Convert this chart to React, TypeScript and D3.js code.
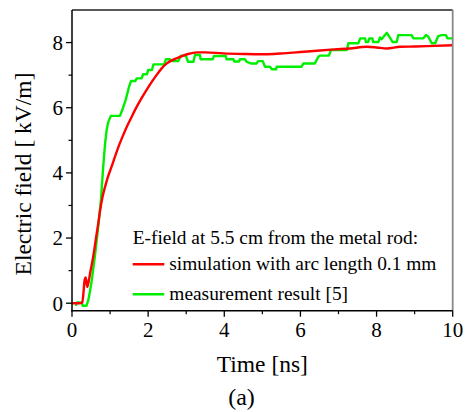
import React from "react";
import * as d3 from "d3";

const W = 469;
const H = 412;

const xTicks = [0, 2, 4, 6, 8, 10];
const xMinor = [1, 3, 5, 7, 9];
const yTicks = [0, 2, 4, 6, 8];
const yMinor = [1, 3, 5, 7];

const legendTitle = "E-field at 5.5 cm from the metal rod:";
const seriesNames = ["simulation with arc length 0.1 mm", "measurement result [5]"];
const seriesColors = ["#ff0000", "#00ee00"];

// simulation (red)
const simT = [0, 0.1, 0.2, 0.27, 0.3, 0.33, 0.36, 0.4, 0.43, 0.48, 0.53, 0.58, 0.65, 0.69, 0.74, 0.8, 0.87, 0.95, 1.04, 1.13, 1.22, 1.33, 1.44, 1.55, 1.65, 1.79, 1.96, 2.1, 2.22, 2.35, 2.49, 2.65, 2.84, 3.05, 3.28, 3.5, 3.97, 4.5, 4.94, 5.3, 5.55, 6.0, 6.43, 6.9, 7.3, 7.74, 8.0, 8.27, 8.62, 9.0, 9.32, 10];
const simV = [0, 0, 0, 0.02, 0.3, 0.7, 0.79, 0.5, 0.62, 0.95, 1.25, 1.6, 2.15, 2.45, 2.86, 3.25, 3.58, 3.9, 4.19, 4.5, 4.8, 5.12, 5.42, 5.68, 5.92, 6.22, 6.55, 6.8, 7.0, 7.2, 7.36, 7.47, 7.56, 7.65, 7.7, 7.7, 7.67, 7.65, 7.64, 7.65, 7.67, 7.71, 7.75, 7.79, 7.82, 7.87, 7.85, 7.82, 7.87, 7.88, 7.89, 7.92];

// measurement (green)
const measT = [0.1, 0.13, 0.26, 0.28, 0.38, 0.43, 0.47, 0.52, 0.6, 0.69, 0.76, 0.82, 0.87, 0.91, 0.95, 1.02, 1.26, 1.32, 1.41, 1.5, 1.55, 1.66, 1.7, 1.83, 1.87, 1.97, 2.0, 2.1, 2.14, 2.42, 2.47, 2.57, 2.65, 2.79, 2.86, 2.99, 3.05, 3.19, 3.23, 3.36, 3.38, 3.7, 3.73, 4.04, 4.06, 4.24, 4.26, 4.39, 4.41, 4.54, 4.59, 4.7, 4.85, 4.89, 5.01, 5.07, 5.2, 5.25, 5.36, 5.38, 6.03, 6.08, 6.38, 6.47, 6.51, 6.75, 6.8, 7.22, 7.26, 7.52, 7.57, 7.7, 7.72, 7.78, 7.81, 7.89, 7.91, 8.05, 8.09, 8.13, 8.27, 8.35, 8.42, 8.53, 8.57, 8.92, 8.97, 9.23, 9.3, 9.36, 9.45, 9.54, 9.62, 9.71, 9.82, 9.86, 10];
const measV = [-0.08, 0.02, 0.02, -0.08, -0.08, 0.1, 0.35, 0.71, 1.43, 2.35, 3.17, 4.19, 4.91, 5.32, 5.55, 5.75, 5.75, 5.93, 6.24, 6.65, 6.82, 6.82, 6.9, 6.9, 7.03, 7.03, 7.16, 7.16, 7.33, 7.33, 7.49, 7.49, 7.43, 7.43, 7.6, 7.6, 7.41, 7.41, 7.62, 7.62, 7.49, 7.49, 7.59, 7.59, 7.49, 7.49, 7.42, 7.42, 7.49, 7.49, 7.41, 7.36, 7.36, 7.43, 7.43, 7.26, 7.26, 7.18, 7.18, 7.26, 7.26, 7.36, 7.36, 7.56, 7.6, 7.6, 7.77, 7.77, 7.98, 7.98, 8.13, 8.13, 8.02, 8.02, 8.13, 8.13, 8.02, 8.02, 8.16, 8.1, 8.3, 8.15, 8.02, 8.02, 8.23, 8.23, 8.13, 8.13, 8.23, 8.18, 7.98, 7.98, 8.2, 8.23, 8.23, 8.13, 8.13];

const FONT = "Liberation Serif, DejaVu Serif, serif";
const txt = { fontFamily: FONT };

export default function App() {
  const left = 72;
  const right = 452.7;
  const top = 10;
  const bottom = 310.7;
  const x = d3.scaleLinear().domain([0, 10]).range([left, right]);
  const y = d3.scaleLinear().domain([-0.23, 9]).range([bottom, top]);

  const line = d3
    .line<[number, number]>()
    .x((d) => x(d[0]))
    .y((d) => y(d[1]));
  const smooth = d3
    .line<[number, number]>()
    .x((d) => x(d[0]))
    .y((d) => y(d[1]))
    .curve(d3.curveMonotoneX);

  const simData: [number, number][] = simT.map((t, i) => [t, simV[i]]);
  const measData: [number, number][] = measT.map((t, i) => [t, measV[i]]);

  const legX = 132.7;
  const legY = 244.3;
  const legFont = 19.4;

  return (
    <svg
      width={W}
      height={H}
      style={{ position: "absolute", left: 0, top: 0, background: "#fff", fontFamily: FONT }}
    >
      <rect x={0} y={0} width={W} height={H} fill="#fff" />
      <defs>
        <clipPath id="plotclip">
          <rect x={left} y={top} width={right - left} height={bottom - top} />
        </clipPath>
      </defs>
      <g clipPath="url(#plotclip)">
        <path d={line(measData) || ""} fill="none" stroke={seriesColors[1]} strokeWidth={2.4} strokeLinejoin="round" />
        <path d={smooth(simData) || ""} fill="none" stroke={seriesColors[0]} strokeWidth={2.4} strokeLinejoin="round" />
      </g>
      {/* frame */}
      <line x1={left} x2={right} y1={top} y2={top} stroke="#222" strokeWidth={1.5} />
      <line x1={right} x2={right} y1={top} y2={bottom} stroke="#888" strokeWidth={1.8} />
      <line x1={left} x2={left} y1={top} y2={bottom + 0.75} stroke="#000" strokeWidth={1.5} />
      <line x1={left - 0.75} x2={right} y1={bottom} y2={bottom} stroke="#000" strokeWidth={1.5} />
      {/* x ticks */}
      {xTicks.map((t) => (
        <g key={"xt" + t}>
          <line x1={x(t)} x2={x(t)} y1={bottom} y2={bottom + 6} stroke="#000" strokeWidth={1.3} />
          <text x={x(t)} y={336.7} fontSize={21} textAnchor="middle" fill="#000" style={txt}>
            {t}
          </text>
        </g>
      ))}
      {xMinor.map((t) => (
        <line key={"xm" + t} x1={x(t)} x2={x(t)} y1={bottom} y2={bottom + 3.5} stroke="#000" strokeWidth={1.2} />
      ))}
      {/* y ticks */}
      {yTicks.map((t) => (
        <g key={"yt" + t}>
          <line x1={left - 6} x2={left} y1={y(t)} y2={y(t)} stroke="#000" strokeWidth={1.3} />
          <text x={63} y={y(t) + 7.3} fontSize={21} textAnchor="end" fill="#000" style={txt}>
            {t}
          </text>
        </g>
      ))}
      {yMinor.map((t) => (
        <line key={"ym" + t} x1={left - 3.5} x2={left} y1={y(t)} y2={y(t)} stroke="#000" strokeWidth={1.2} />
      ))}
      {/* axis titles */}
      <text x={(left + right) / 2} y={372} fontSize={23.5} textAnchor="middle" fill="#000" style={txt}>
        Time [ns]
      </text>
      <text x={241.5} y={404.5} fontSize={24} textAnchor="middle" fill="#000" style={txt}>
        (a)
      </text>
      <text
        transform={`translate(30.5, ${174}) rotate(-90)`}
        fontSize={23.5}
        textAnchor="middle"
        fill="#000"
        style={txt}
      >
        Electric field [ kV/m]
      </text>
      {/* legend */}
      <text x={legX} y={legY} fontSize={legFont} fill="#000" style={txt}>
        {legendTitle}
      </text>
      {seriesNames.map((name, i) => (
        <g key={name}>
          <line
            x1={legX}
            x2={164.3}
            y1={264.3 + i * 30}
            y2={264.3 + i * 30}
            stroke={seriesColors[i]}
            strokeWidth={2.4}
          />
          <text x={169.3} y={269.5 + i * 30} fontSize={legFont} fill="#000" style={txt}>
            {name}
          </text>
        </g>
      ))}
    </svg>
  );
}
